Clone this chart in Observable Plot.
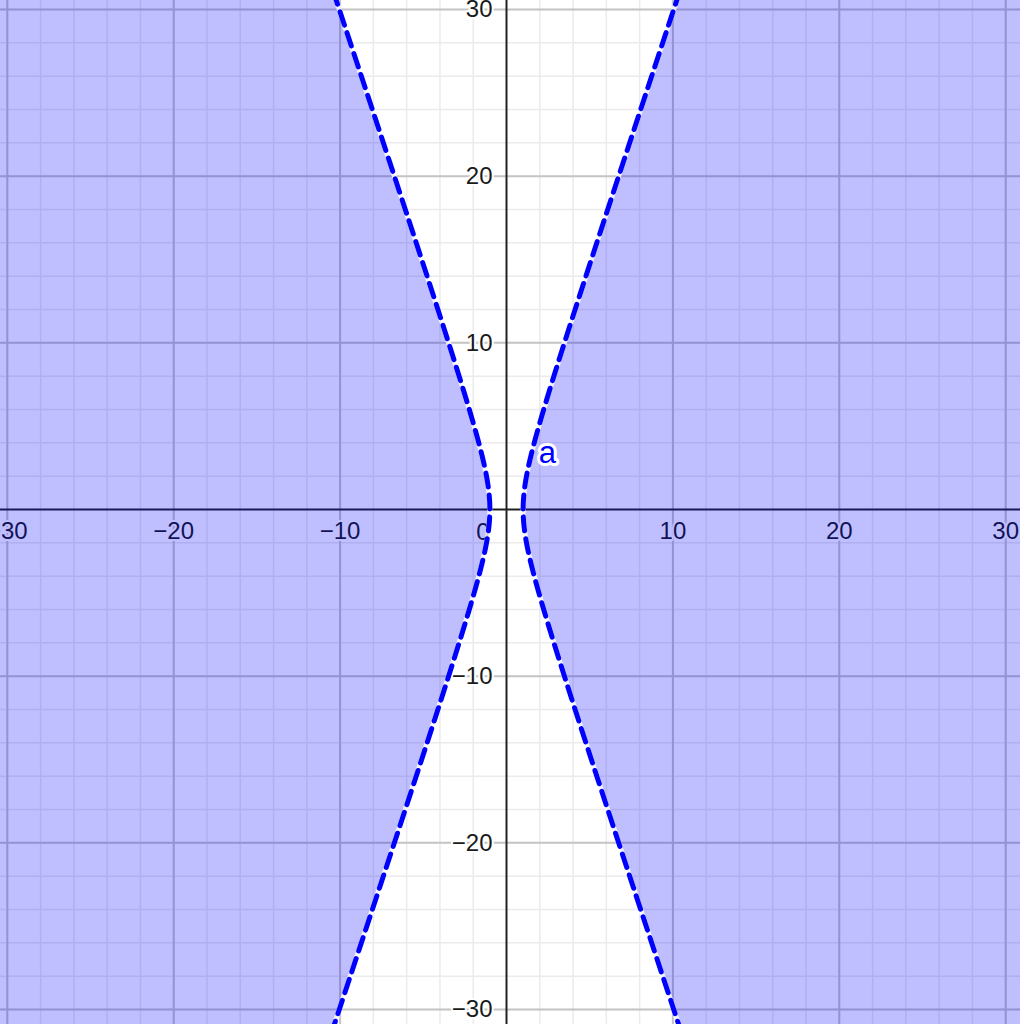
<!DOCTYPE html>
<html><head><meta charset="utf-8">
<script src="https://cdn.jsdelivr.net/npm/d3@7"></script>
<script src="https://cdn.jsdelivr.net/npm/@observablehq/plot@0.6"></script>
<style>body{margin:0;background:#fff}svg{display:block}</style></head>
<body><div id="chart"></div>
<script>
// Inequality: x²/a² − y²/b² > 1  (dashed boundary, shaded outside)
const a = 1;
const b = 3;
const xDomain = [-30.41, 30.89];
const yDomain = [-30.9, 30.54];
const majorTicks = [-30, -20, -10, 10, 20, 30];
const minorTicks = [-30,-28,-26,-24,-22,-20,-18,-16,-14,-12,-10,-8,-6,-4,-2,2,4,6,8,10,12,14,16,18,20,22,24,26,28,30];
const tickLabels = ["−30", "−20", "−10", "10", "20", "30"];
const curveLabel = [{x: 2.46, y: 3.36, text: "a"}];
const ySamples = d3.range(-31.5, 31.5001, 0.05);

const branch = (s) => (y) => s * a * Math.sqrt(1 + (y / b) ** 2);
const left = branch(-1), right = branch(1);
const font = "'Liberation Sans', Arial, Helvetica, sans-serif";

const chart = Plot.plot({
  width: 1020, height: 1024,
  margin: 0,
  x: {domain: xDomain, axis: null},
  y: {domain: yDomain, axis: null},
  style: {background: "#fff", fontFamily: font},
  marks: [
    Plot.ruleX(minorTicks, {stroke: "#ebebeb", strokeWidth: 1.5}),
    Plot.ruleY(minorTicks, {stroke: "#ebebeb", strokeWidth: 1.5}),
    Plot.ruleX(majorTicks, {stroke: "#c4c4c4", strokeWidth: 2}),
    Plot.ruleY(majorTicks, {stroke: "#c4c4c4", strokeWidth: 2}),
    Plot.ruleX([0], {stroke: "#222", strokeWidth: 2}),
    Plot.ruleY([0], {stroke: "#222", strokeWidth: 2}),
    Plot.text(majorTicks, {x: d => d, y: 0, dy: 22, text: (d, i) => tickLabels[i], fontSize: 24, fill: "#1a1a1a", stroke: "white", strokeWidth: 4, textAnchor: "middle"}),
    Plot.text(majorTicks, {x: 0, y: d => d, dx: -14, text: (d, i) => tickLabels[i], fontSize: 24, fill: "#1a1a1a", stroke: "white", strokeWidth: 4, textAnchor: "end"}),
    Plot.text([0], {x: 0, y: 0, dx: -17, dy: 23, text: ["0"], fontSize: 24, fill: "#1a1a1a", stroke: "white", strokeWidth: 4, textAnchor: "end"}),
    Plot.areaX(ySamples, {y: d => d, x1: xDomain[0] - 1, x2: left, fill: "#0000ff", fillOpacity: 0.25, clip: true}),
    Plot.areaX(ySamples, {y: d => d, x1: right, x2: xDomain[1] + 1, fill: "#0000ff", fillOpacity: 0.25, clip: true}),
    Plot.line(ySamples, {x: left, y: d => d, stroke: "white", strokeWidth: 5, strokeOpacity: 0.8, clip: true}),
    Plot.line(ySamples, {x: right, y: d => d, stroke: "white", strokeWidth: 5, strokeOpacity: 0.8, clip: true}),
    Plot.line(ySamples, {x: left, y: d => d, stroke: "#0000ff", strokeWidth: 5, strokeDasharray: "14,8", clip: true}),
    Plot.line(ySamples, {x: right, y: d => d, stroke: "#0000ff", strokeWidth: 5, strokeDasharray: "14,8", clip: true}),
    Plot.text(curveLabel, {x: "x", y: "y", text: "text", fontSize: 31, fill: "#0000ff", stroke: "white", strokeWidth: 6})
  ]
});
document.getElementById("chart").append(chart);
</script>
</body></html>
